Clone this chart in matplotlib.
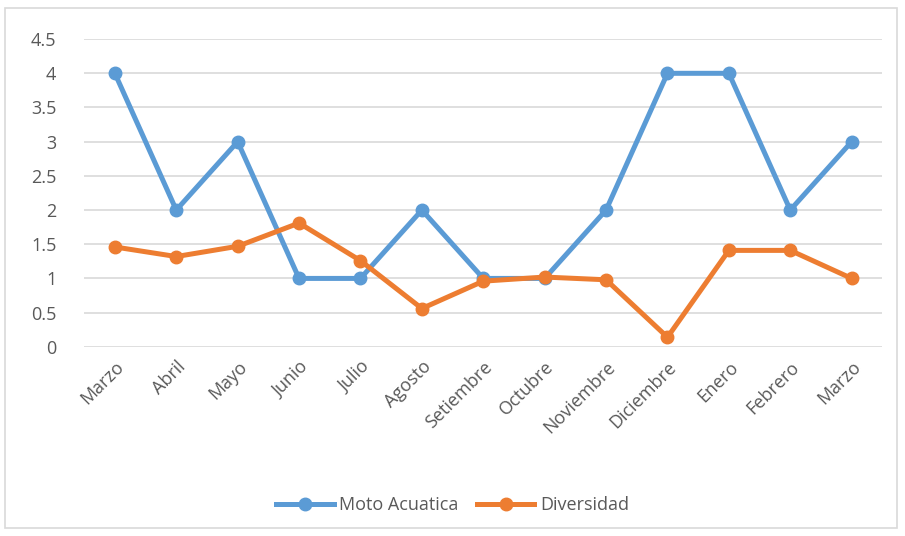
import matplotlib.pyplot as plt
from matplotlib.patches import Rectangle

months = ['Marzo', 'Abril', 'Mayo', 'Junio', 'Julio', 'Agosto', 'Setiembre',
          'Octubre', 'Noviembre', 'Diciembre', 'Enero', 'Febrero', 'Marzo']
moto_acuatica = [4, 2, 3, 1, 1, 2, 1, 1, 2, 4, 4, 2, 3]
diversidad = [1.46, 1.32, 1.47, 1.81, 1.26, 0.56, 0.96, 1.02, 0.98, 0.14, 1.41, 1.41, 1.0]
y_ticks = [0, 0.5, 1, 1.5, 2, 2.5, 3, 3.5, 4, 4.5]

plt.rcParams['font.family'] = ['Open Sans', 'DejaVu Sans']
text_color = '#595959'

fig = plt.figure(figsize=(9.05, 5.36), dpi=100)
ax = fig.add_axes([0.093, 0.353, 0.882, 0.574])

# outer chart border
fig.patches.append(Rectangle((0.006, 0.015), 0.985, 0.97, transform=fig.transFigure,
                             fill=False, edgecolor='#D9D9D9', linewidth=1.2))

x = range(len(months))
ax.plot(x, moto_acuatica, '-o', color='#5B9BD5', linewidth=3.6, markersize=9,
        label='Moto Acuatica', zorder=3)
ax.plot(x, diversidad, '-o', color='#ED7D31', linewidth=3.6, markersize=9,
        label='Diversidad', zorder=4)

ax.set_xlim(-0.5, len(months) - 0.5)
ax.set_ylim(0, 4.5)
ax.set_yticks(y_ticks)
ax.set_yticklabels([f'{v:g}' for v in y_ticks], fontsize=13, color=text_color)
ax.set_xticks(list(x))
ax.set_xticklabels(months, rotation=45, ha='right', rotation_mode='anchor',
                   fontsize=13, color=text_color)
ax.tick_params(axis='x', length=0, pad=8)
ax.tick_params(axis='y', length=0, pad=20)
ax.yaxis.grid(True, color='#D9D9D9', linewidth=1.2)
ax.set_axisbelow(True)
for s in ax.spines.values():
    s.set_visible(False)

fig.legend(loc='center', bbox_to_anchor=(0.5, 0.058), ncol=2, frameon=False,
           fontsize=13, labelcolor=text_color, handlelength=3.2, columnspacing=1.0,
           handletextpad=0.3)

fig.savefig('out.png', dpi=100)
